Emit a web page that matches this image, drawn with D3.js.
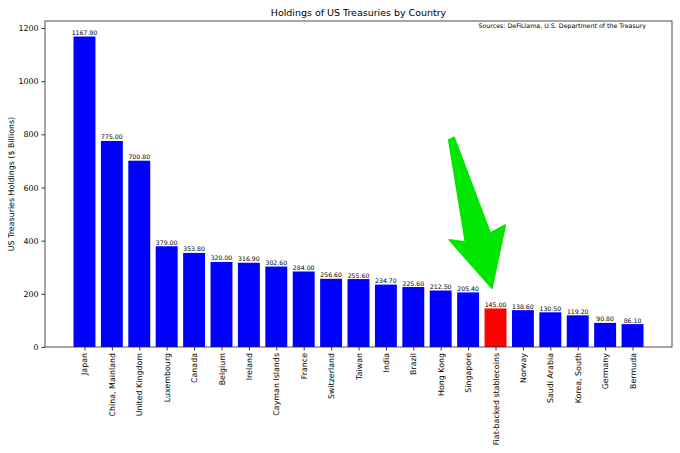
<!DOCTYPE html>
<html>
<head>
<meta charset="utf-8">
<script src="https://cdn.jsdelivr.net/npm/d3@7"></script>
<style>
  html, body { margin: 0; padding: 0; background: #fff; }
  svg { display: block; font-family: "DejaVu Sans", sans-serif; }
</style>
</head>
<body>
<svg id="chart" width="680" height="453"></svg>
<script>
// ── Data ─────────────────────────────────────────────────────────────────────
const countries = [
  'Japan', 'China, Mainland', 'United Kingdom', 'Luxembourg', 'Canada',
  'Belgium', 'Ireland', 'Cayman Islands', 'France', 'Switzerland',
  'Taiwan', 'India', 'Brazil', 'Hong Kong', 'Singapore',
  'Fiat-backed stablecoins', 'Norway', 'Saudi Arabia', 'Korea, South',
  'Germany', 'Bermuda'
];
const holdings = [
  1167.9, 775.0, 700.8, 379.0, 353.8,
  320.0, 316.9, 302.6, 284.0, 256.6,
  255.6, 234.7, 225.6, 212.5, 205.4,
  145.0, 138.6, 130.5, 119.2,
  90.8, 86.1
];
const highlight = 'Fiat-backed stablecoins';
const yTicks = [0, 200, 400, 600, 800, 1000, 1200];

// arrow annotation, in (bar index, value) space
const arrowShape = [
  [13.29, 779], [13.49, 789], [14.81, 429], [15.36, 459],
  [14.87, 221], [13.31, 403], [13.90, 395]
];

// ── Layout ───────────────────────────────────────────────────────────────────
const W = 680, H = 453;
const M = { top: 21, right: 8, bottom: 106, left: 45 };
const FS = 7.9;                       // base font size (tick + axis labels)
const svg = d3.select('#chart');

const n = countries.length;
const x = d3.scaleLinear()
  .domain([-0.4 - 0.05 * (n - 0.2), n - 0.6 + 0.05 * (n - 0.2)])
  .range([M.left, W - M.right]);
const yMax = d3.max(holdings) * 1.05;
const y = d3.scaleLinear().domain([0, yMax]).range([H - M.bottom, M.top]);
const BAR_W = 0.8;

const data = countries.map((c, i) => ({ c, v: holdings[i], i }));

// ── Bars ─────────────────────────────────────────────────────────────────────
svg.append('g').selectAll('rect')
  .data(data)
  .join('rect')
  .attr('x', d => x(d.i - BAR_W / 2))
  .attr('width', d => x(BAR_W) - x(0))
  .attr('y', d => y(d.v))
  .attr('height', d => y(0) - y(d.v))
  .attr('fill', d => d.c === highlight ? '#ff0000' : '#0000ff');

// value labels
svg.append('g').selectAll('text')
  .data(data)
  .join('text')
  .attr('x', d => x(d.i))
  .attr('y', d => y(d.v) - 1.5)
  .attr('text-anchor', 'middle')
  .attr('font-size', 6.2)
  .attr('fill', '#000')
  .text(d => d3.format('.2f')(d.v));

// ── Axes ─────────────────────────────────────────────────────────────────────
const yAxis = svg.append('g')
  .attr('transform', `translate(${M.left},0)`)
  .call(d3.axisLeft(y).tickValues(yTicks).tickSize(3.5).tickPadding(3).tickFormat(d3.format('d')));
yAxis.select('.domain').remove();
yAxis.selectAll('text').attr('font-size', FS).attr('fill', '#000').attr('font-family', 'DejaVu Sans');
yAxis.selectAll('line').attr('stroke', '#000').attr('stroke-width', 0.8);

const xAxis = svg.append('g')
  .attr('transform', `translate(0,${H - M.bottom})`)
  .call(d3.axisBottom(x).tickValues(d3.range(n)).tickSize(3.5).tickFormat(i => countries[i]));
xAxis.select('.domain').remove();
xAxis.selectAll('line').attr('stroke', '#000').attr('stroke-width', 0.8);
xAxis.selectAll('text')
  .attr('font-size', FS)
  .attr('fill', '#000')
  .attr('font-family', 'DejaVu Sans')
  .attr('text-anchor', 'end')
  .attr('dy', '0.32em')
  .attr('transform', 'translate(0,6) rotate(-90)')
  .attr('x', 0).attr('y', 0);

// frame
svg.append('rect')
  .attr('x', M.left).attr('y', M.top)
  .attr('width', W - M.right - M.left).attr('height', H - M.bottom - M.top)
  .attr('fill', 'none').attr('stroke', '#222').attr('stroke-width', 0.8);

// ── Arrow annotation ─────────────────────────────────────────────────────────
svg.append('polygon')
  .attr('points', arrowShape.map(p => [x(p[0]), y(p[1])].join(',')).join(' '))
  .attr('fill', '#00e600')
  .attr('stroke', '#00e600')
  .attr('stroke-width', 1.5)
  .attr('stroke-linejoin', 'round');

// ── Texts ────────────────────────────────────────────────────────────────────
svg.append('text')
  .attr('x', (M.left + W - M.right) / 2).attr('y', 16)
  .attr('text-anchor', 'middle').attr('font-size', FS * 1.2)
  .text('Holdings of US Treasuries by Country');

svg.append('text')
  .attr('x', W - M.right - 26).attr('y', 27.5)
  .attr('text-anchor', 'end').attr('font-size', 6.3)
  .text('Sources: DeFiLlama, U.S. Department of the Treasury');

svg.append('text')
  .attr('transform', `translate(14,${(M.top + H - M.bottom) / 2}) rotate(-90)`)
  .attr('text-anchor', 'middle').attr('font-size', FS)
  .text('US Treasuries Holdings ($ Billions)');
</script>
</body>
</html>
